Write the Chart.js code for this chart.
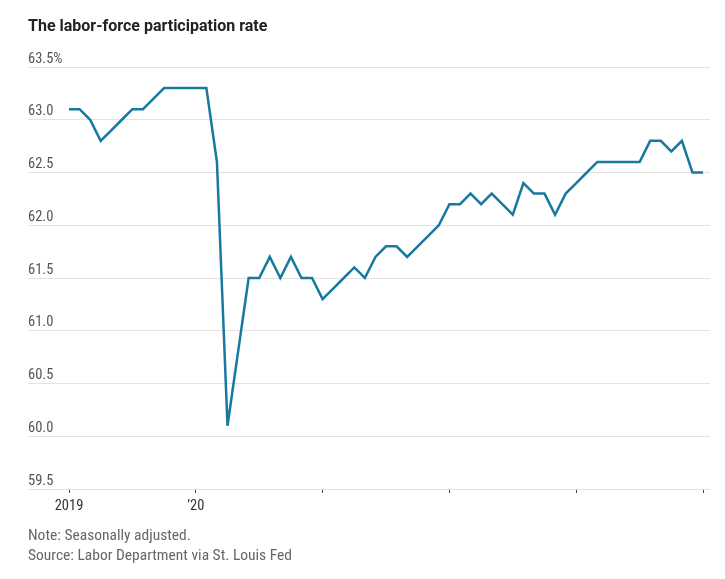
<!DOCTYPE html>
<html>
<head>
<meta charset="utf-8">
<script src="https://cdn.jsdelivr.net/npm/chart.js@4.4.1/dist/chart.umd.min.js"></script>
<style>
  html, body { margin: 0; padding: 0; background: #ffffff; }
  #wrap { position: relative; width: 725px; height: 579px; overflow: hidden; }
  #chart { position: absolute; left: 0; top: 0; }
  .txt { position: absolute; left: 28px; white-space: nowrap; font-family: 'Roboto Condensed', 'Liberation Sans Narrow', 'DejaVu Sans Condensed', sans-serif; }
  #title { top: 16px; font-family: Roboto, 'Open Sans', sans-serif; font-size: 16px; font-weight: bold; color: #222; }
  #note { top: 526px; font-size: 15.5px; color: #666; }
  #source { top: 546px; font-size: 15.5px; color: #666; }
</style>
</head>
<body>
<div id="wrap">
  <canvas id="chart" width="725" height="579"></canvas>
  <div class="txt" id="title">The labor-force participation rate</div>
  <div class="txt" id="note">Note: Seasonally adjusted.</div>
  <div class="txt" id="source">Source: Labor Department via St. Louis Fed</div>
</div>
<script>
// Monthly labor-force participation rate, Jan 2019 – Jan 2024 (%)
const months = [
  "2019-01","2019-02","2019-03","2019-04","2019-05","2019-06","2019-07","2019-08","2019-09","2019-10","2019-11","2019-12",
  "2020-01","2020-02","2020-03","2020-04","2020-05","2020-06","2020-07","2020-08","2020-09","2020-10","2020-11","2020-12",
  "2021-01","2021-02","2021-03","2021-04","2021-05","2021-06","2021-07","2021-08","2021-09","2021-10","2021-11","2021-12",
  "2022-01","2022-02","2022-03","2022-04","2022-05","2022-06","2022-07","2022-08","2022-09","2022-10","2022-11","2022-12",
  "2023-01","2023-02","2023-03","2023-04","2023-05","2023-06","2023-07","2023-08","2023-09","2023-10","2023-11","2023-12",
  "2024-01"
];
const rate = [
  63.1, 63.1, 63.0, 62.8, 62.9, 63.0, 63.1, 63.1, 63.2, 63.3, 63.3, 63.3,
  63.3, 63.3, 62.6, 60.1, 60.8, 61.5, 61.5, 61.7, 61.5, 61.7, 61.5, 61.5,
  61.3, 61.4, 61.5, 61.6, 61.5, 61.7, 61.8, 61.8, 61.7, 61.8, 61.9, 62.0,
  62.2, 62.2, 62.3, 62.2, 62.3, 62.2, 62.1, 62.4, 62.3, 62.3, 62.1, 62.3,
  62.4, 62.5, 62.6, 62.6, 62.6, 62.6, 62.6, 62.8, 62.8, 62.7, 62.8, 62.5,
  62.5
];
const xTickMonths = [0, 12, 24, 36, 48, 60];
const xTickLabels = ["2019", "\u201920", "", "", "", ""];
const yTickValues = [59.5, 60.0, 60.5, 61.0, 61.5, 62.0, 62.5, 63.0, 63.5];
const yTickLabels = ["59.5", "60.0", "60.5", "61.0", "61.5", "62.0", "62.5", "63.0", "63.5%"];

const FONT = "'Roboto Condensed', 'Liberation Sans Narrow', 'DejaVu Sans Condensed', sans-serif";
const points = rate.map((v, i) => ({ x: i, y: v }));

new Chart(document.getElementById('chart'), {
  type: 'line',
  data: {
    datasets: [{
      data: points,
      borderColor: '#17799f',
      borderWidth: 2.5,
      pointRadius: 0,
      pointHoverRadius: 0,
      tension: 0,
      fill: false
    }]
  },
  options: {
    responsive: false,
    animation: false,
    events: [],
    layout: { padding: { left: 28, right: 15, top: 67, bottom: 50 } },
    plugins: { legend: { display: false }, tooltip: { enabled: false }, title: { display: false } },
    scales: {
      x: {
        type: 'linear',
        min: -3.88,
        max: 60.66,
        afterBuildTicks: (s) => { s.ticks = xTickMonths.map(v => ({ value: v })); },
        afterFit: (s) => { s.height = 40; },
        ticks: {
          autoSkip: false,
          maxRotation: 0,
          padding: 5,
          color: '#333',
          font: { family: FONT, size: 14.5 },
          callback: (v) => { const i = xTickMonths.indexOf(v); return i >= 0 ? xTickLabels[i] : ''; }
        },
        grid: { display: true, drawOnChartArea: false, drawTicks: true, tickLength: 4, color: '#444', lineWidth: 1 },
        border: { display: false }
      },
      y: {
        min: 59.5,
        max: 63.5,
        afterBuildTicks: (s) => { s.ticks = yTickValues.map(v => ({ value: v })); },
        afterFit: (s) => { s.width = 0; },
        ticks: {
          mirror: true,
          padding: 0,
          labelOffset: -8,
          color: '#555',
          font: { family: FONT, size: 14.5 },
          callback: (v) => { const i = yTickValues.findIndex(t => Math.abs(t - v) < 1e-6); return i >= 0 ? yTickLabels[i] : ''; }
        },
        grid: { color: '#e3e3e3', lineWidth: 1, drawTicks: false },
        border: { display: false }
      }
    }
  }
});
</script>
</body>
</html>
